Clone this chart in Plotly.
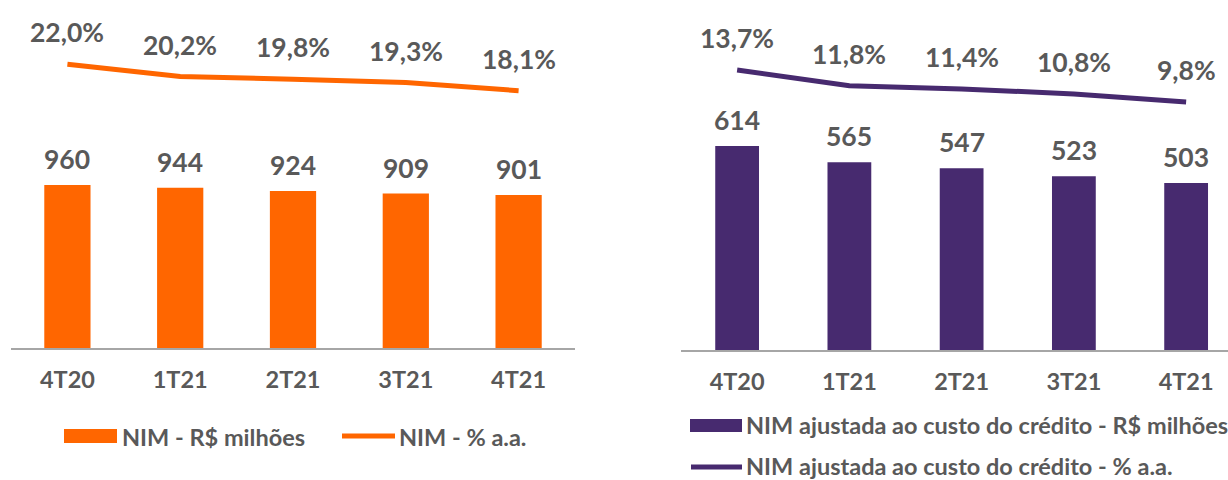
import plotly.graph_objects as go

# ---- data ----
categories = ["4T20", "1T21", "2T21", "3T21", "4T21"]
nim_values = [960, 944, 924, 909, 901]
nim_pct = [22.0, 20.2, 19.8, 19.3, 18.1]
nim_adj_values = [614, 565, 547, 523, 503]
nim_adj_pct = [13.7, 11.8, 11.4, 10.8, 9.8]

legend_left = ["NIM - R$ milhões", "NIM - % a.a."]
legend_right = ["NIM ajustada ao custo do crédito - R$ milhões",
                "NIM ajustada ao custo do crédito - % a.a."]

# ---- styles ----
ORANGE = "#FF6600"
PURPLE = "#472A6F"
GREY = "#595959"
AXIS = "#A6A6A6"
FONT = "Lato"
W, H = 1228, 480


def pct(v):
    return f"{v:.1f}%".replace(".", ",")


def px_x(x):
    return x / W


def px_y(y):
    return 1 - y / H


fig = go.Figure()
fig.add_trace(go.Bar(x=categories, y=nim_values, xaxis="x", yaxis="y",
                     marker=dict(color=ORANGE, line=dict(width=0)), width=0.41,
                     showlegend=False, hoverinfo="skip"))
fig.add_trace(go.Scatter(x=categories, y=nim_pct, xaxis="x", yaxis="y2", mode="lines",
                         line=dict(color=ORANGE, width=5), showlegend=False, hoverinfo="skip"))
fig.add_trace(go.Bar(x=categories, y=nim_adj_values, xaxis="x2", yaxis="y3",
                     marker=dict(color=PURPLE, line=dict(width=0)), width=0.39,
                     showlegend=False, hoverinfo="skip"))
fig.add_trace(go.Scatter(x=categories, y=nim_adj_pct, xaxis="x2", yaxis="y4", mode="lines",
                         line=dict(color=PURPLE, width=5), showlegend=False, hoverinfo="skip"))

label_font = dict(family=FONT, size=26.5, color=GREY, weight="bold")
annotations = []
for c, v in zip(categories, nim_values):
    annotations.append(dict(x=c, y=v, xref="x", yref="y", text=str(v), showarrow=False,
                            yshift=26, yanchor="middle", font=label_font))
for c, v in zip(categories, nim_pct):
    annotations.append(dict(x=c, y=v, xref="x", yref="y2", text=pct(v), showarrow=False,
                            yshift=32, yanchor="middle", font=label_font))
for c, v in zip(categories, nim_adj_values):
    annotations.append(dict(x=c, y=v, xref="x2", yref="y3", text=str(v), showarrow=False,
                            yshift=26, yanchor="middle", font=label_font))
for c, v in zip(categories, nim_adj_pct):
    annotations.append(dict(x=c, y=v, xref="x2", yref="y4", text=pct(v), showarrow=False,
                            yshift=32, yanchor="middle", font=label_font))

# ---- custom legends ----
leg_font = dict(family=FONT, size=23.5, color=GREY, weight="bold")
shapes = [
    dict(type="rect", xref="paper", yref="paper", x0=px_x(64), x1=px_x(117),
         y0=px_y(443), y1=px_y(429), fillcolor=ORANGE, line=dict(width=0)),
    dict(type="line", xref="paper", yref="paper", x0=px_x(342), x1=px_x(395),
         y0=px_y(436), y1=px_y(436), line=dict(color=ORANGE, width=5)),
    dict(type="rect", xref="paper", yref="paper", x0=px_x(690), x1=px_x(742),
         y0=px_y(432), y1=px_y(419), fillcolor=PURPLE, line=dict(width=0)),
    dict(type="line", xref="paper", yref="paper", x0=px_x(691), x1=px_x(742),
         y0=px_y(467), y1=px_y(467), line=dict(color=PURPLE, width=5)),
]
annotations += [
    dict(x=px_x(120), y=px_y(437), xref="paper", yref="paper", text=legend_left[0],
         showarrow=False, xanchor="left", yanchor="middle", font=leg_font),
    dict(x=px_x(397), y=px_y(437), xref="paper", yref="paper", text=legend_left[1],
         showarrow=False, xanchor="left", yanchor="middle", font=leg_font),
    dict(x=px_x(744), y=px_y(425), xref="paper", yref="paper", text=legend_right[0],
         showarrow=False, xanchor="left", yanchor="middle", font=leg_font),
    dict(x=px_x(744), y=px_y(466), xref="paper", yref="paper", text=legend_right[1],
         showarrow=False, xanchor="left", yanchor="middle", font=leg_font),
]

tick_font = dict(family=FONT, size=23.5, color=GREY, weight="bold")
xcommon = dict(type="category", showline=True, linecolor=AXIS, linewidth=2, ticks="",
               showgrid=False, zeroline=False, tickfont=tick_font, ticklabelstandoff=10,
               fixedrange=True)

fig.update_layout(
    width=W, height=H,
    margin=dict(l=0, r=0, t=0, b=0),
    paper_bgcolor="white", plot_bgcolor="white",
    font=dict(family=FONT, color=GREY),
    showlegend=False,
    xaxis=dict(domain=[px_x(11), px_x(575)], range=[-0.5, 4.5], anchor="y", **xcommon),
    yaxis=dict(domain=[px_y(348), 1], range=[0, 2049], visible=False),
    yaxis2=dict(overlaying="y", range=[-19.9, 31.5], visible=False),
    xaxis2=dict(domain=[px_x(681), 1], range=[-0.5, 4.373], anchor="y3", **xcommon),
    yaxis3=dict(domain=[px_y(350), 1], range=[0, 1053.6], visible=False),
    yaxis4=dict(overlaying="y3", range=[-20.4, 22.24], visible=False),
    annotations=annotations,
    shapes=shapes,
)

fig.write_html("out.html", config={"displayModeBar": False},
               post_script="document.body.style.margin='0';")
